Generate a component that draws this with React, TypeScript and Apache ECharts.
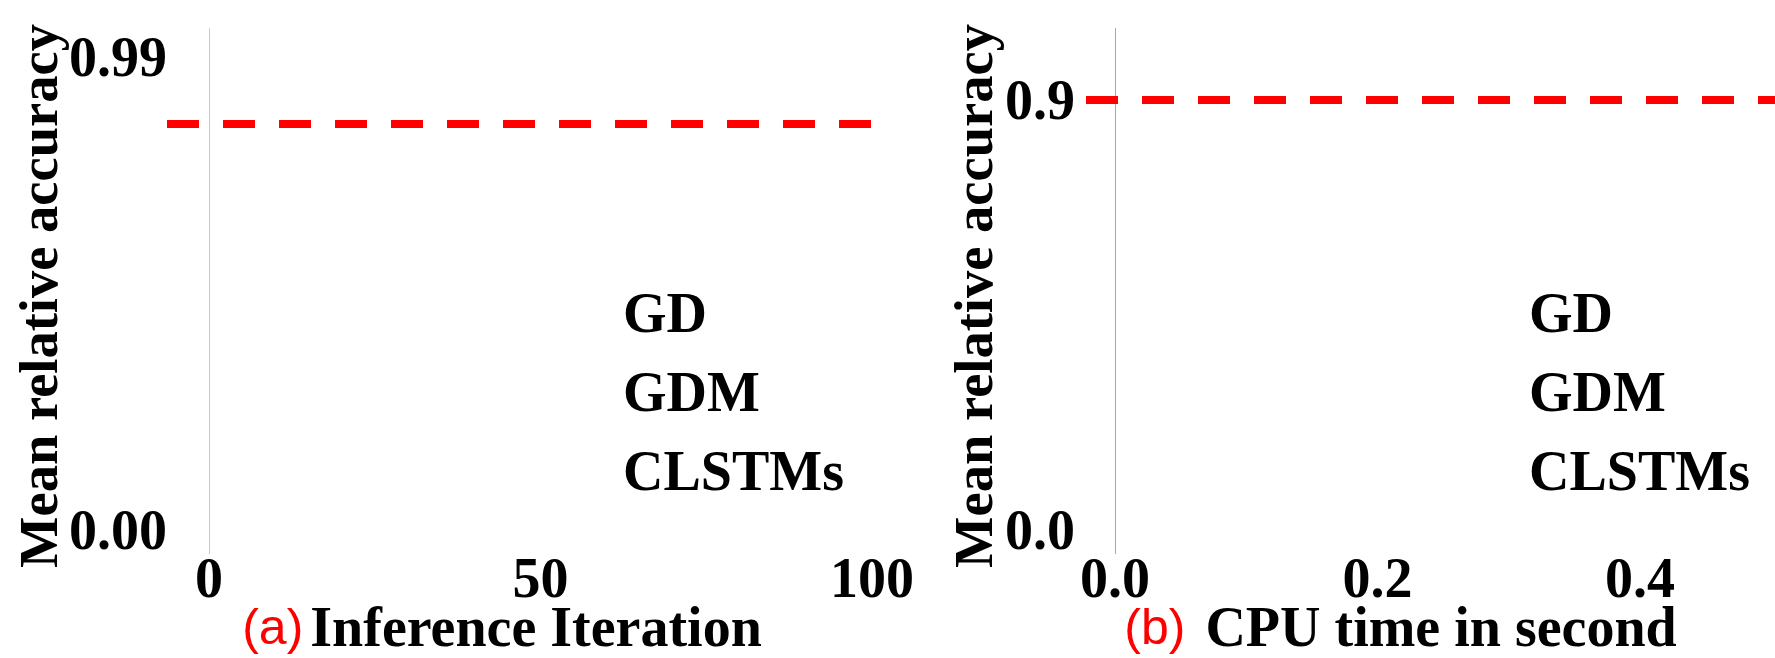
import React, { useEffect, useRef } from 'react';
import * as echarts from 'echarts';

// ---- data ----
const legendNames = ['GD', 'GDM', 'CLSTMs'];
// the method curves carry no visible points in the reference
const gdA: number[][] = [];
const gdmA: number[][] = [];
const clstmsA: number[][] = [];
const gdB: number[][] = [];
const gdmB: number[][] = [];
const clstmsB: number[][] = [];

const xTicksA = [0, 50, 100];
const yTicksA = [0, 0.99];
const targetA = 0.853;
const xRangeA = [-6.33, 100];

const xTicksB = [0, 0.2, 0.4];
const yTicksB = [0, 0.9];
const targetB = 0.895;
const xRangeB = [-0.0221, 0.5029];

const yRange = [-0.05, 1.05];

const SERIF = "'Times New Roman', 'Liberation Serif', serif";
const SANS = "Arial, 'Liberation Sans', sans-serif";

export default function App() {
  const ref = useRef<HTMLDivElement>(null);
  useEffect(() => {
    if (!ref.current) return;
    const chart = echarts.init(ref.current, undefined, { renderer: 'svg' });

    const boldText = { fontFamily: SERIF, fontWeight: 'bold' as const, fontSize: 56, color: '#000' };

    const makeX = (gridIndex: number, range: number[], ticks: number[], fmt: (v: number) => string, name: string, padRight: number, redGap: number) => ({
      type: 'value',
      gridIndex,
      min: range[0],
      max: range[1],
      axisLine: { show: false },
      axisTick: { show: false },
      splitLine: { show: false },
      axisLabel: { customValues: ticks, formatter: fmt, margin: -4, ...boldText },
      name,
      nameLocation: 'middle',
      nameGap: 45,
      nameMoveOverlap: false,
      nameTextStyle: {
        padding: [0, padRight, 0, 0],
        rich: {
          r: { color: '#ff0000', fontFamily: SANS, fontSize: 50, padding: [0, redGap, 0, 0] },
          b: { ...boldText },
        },
      },
    });

    const makeY = (gridIndex: number, ticks: number[], fmt: (v: number) => string, margin: number, nameGap: number) => ({
      type: 'value',
      gridIndex,
      min: yRange[0],
      max: yRange[1],
      axisLine: { show: false },
      axisTick: { show: false },
      splitLine: { show: false },
      axisLabel: { customValues: ticks, formatter: fmt, margin, ...boldText },
      name: 'Mean relative accuracy',
      nameLocation: 'middle',
      nameRotate: 90,
      nameGap,
      nameMoveOverlap: false,
      nameTextStyle: { ...boldText, fontSize: 54.5, padding: [0, 10, 0, 0] },
    });

    const methodSeries = (xi: number, datas: number[][][]) =>
      legendNames.map((n, i) => ({
        type: 'line',
        name: n,
        xAxisIndex: xi,
        yAxisIndex: xi,
        data: datas[i],
        showSymbol: false,
      }));

    const refSeries = (xi: number, target: number, gray: string) => ({
      type: 'line',
      name: 'ref' + xi,
      xAxisIndex: xi,
      yAxisIndex: xi,
      data: [],
      markLine: {
        silent: true,
        symbol: ['none', 'none'],
        label: { show: false },
        data: [
          { xAxis: 0, lineStyle: { color: gray, width: 1, type: 'solid' } },
          { yAxis: target, lineStyle: { color: '#ff0000', width: 8, type: [32, 24], cap: 'butt' } },
        ],
      },
    });

    const legendBase = {
      data: legendNames,
      orient: 'vertical',
      top: 280,
      icon: 'rect',
      itemWidth: 2,
      itemHeight: 2,
      itemGap: 23,
      selectedMode: false,
      itemStyle: { opacity: 0 },
      lineStyle: { opacity: 0 },
      textStyle: { ...boldText },
    };

    chart.setOption({
      animation: false,
      backgroundColor: '#fff',
      grid: [
        { left: 167, top: 28, width: 705, height: 526, outerBoundsMode: 'none', containLabel: false },
        { left: 1086, top: 28, width: 689, height: 526, outerBoundsMode: 'none', containLabel: false },
      ],
      xAxis: [
        makeX(0, xRangeA, xTicksA, (v: number) => String(v), '{r|(a)}{b|Inference Iteration}', 35, 7),
        makeX(1, xRangeB, xTicksB, (v: number) => v.toFixed(1), '{r|(b)}{b| CPU time in second}', 60, 6),
      ],
      yAxis: [
        makeY(0, yTicksA, (v: number) => v.toFixed(2), 0, 101),
        makeY(1, yTicksB, (v: number) => v.toFixed(1), 11, 85),
      ],
      legend: [
        { ...legendBase, left: 611 },
        { ...legendBase, left: 1517 },
      ],
      series: [
        ...methodSeries(0, [gdA, gdmA, clstmsA]),
        refSeries(0, targetA, '#c8c8c8'),
        ...methodSeries(1, [gdB, gdmB, clstmsB]),
        refSeries(1, targetB, '#a8a8a8'),
      ],
    });
    return () => chart.dispose();
  }, []);
  return <div ref={ref} style={{ position: 'fixed', left: 0, top: 0, width: 1775, height: 658 }} />;
}
